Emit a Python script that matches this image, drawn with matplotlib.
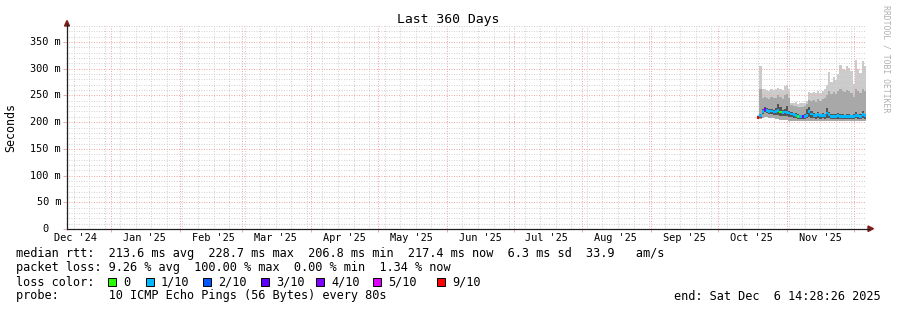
import datetime as dt
import matplotlib
matplotlib.use("Agg")
import matplotlib.pyplot as plt
import matplotlib.dates as mdates
from matplotlib.patches import Rectangle, Polygon
from matplotlib.lines import Line2D
from matplotlib.ticker import MultipleLocator

W, H = 897, 310
MONO = "DejaVu Sans Mono"

# ---- data ----
t_start = dt.datetime(2024, 12, 11, 14, 28, 26)
t_end = dt.datetime(2025, 12, 6, 14, 28, 26)
data_start = dt.datetime(2025, 10, 18, 14, 0)

month_labels = ["Dec '24", "Jan '25", "Feb '25", "Mar '25", "Apr '25", "May '25",
                "Jun '25", "Jul '25", "Aug '25", "Sep '25", "Oct '25", "Nov '25"]
month_ym = [(2024, 12), (2025, 1), (2025, 2), (2025, 3), (2025, 4), (2025, 5),
            (2025, 6), (2025, 7), (2025, 8), (2025, 9), (2025, 10), (2025, 11)]

# daily smoke (ms): highest ping, upper-mid ping, dark band top/bottom, lowest ping
smoke_hi = [214, 305, 262, 262, 260, 258, 263, 261, 262, 264, 262, 260, 268, 270, 262,
            236, 235, 237, 234, 236, 235, 236, 240, 256, 255, 257, 254, 258, 255, 258,
            262, 270, 294, 276, 284, 279, 290, 307, 300, 298, 305, 302, 296, 272, 316,
            300, 292, 314, 305]
smoke_mid = [212, 262, 245, 248, 246, 244, 247, 245, 246, 250, 248, 244, 250, 252, 246,
             232, 230, 231, 228, 229, 228, 230, 234, 242, 240, 242, 238, 243, 240, 244,
             246, 250, 258, 252, 256, 252, 258, 262, 258, 256, 260, 258, 255, 248, 262,
             258, 254, 262, 258]
dark_hi = [211, 216, 225, 228, 226, 224, 225, 223, 226, 234, 228, 222, 224, 230, 221,
           219, 218, 217, 215, 214, 214, 215, 224, 228, 220, 217, 216, 219, 216, 217,
           216, 226, 219, 215, 215, 215, 217, 215, 215, 214, 215, 216, 214, 215, 219,
           216, 215, 220, 216]
dark_lo = [207, 208, 215, 219, 217, 215, 216, 214, 214, 213, 212, 212, 212, 211, 210,
           209, 208, 207, 206, 205, 205, 206, 207, 210, 208, 207, 206, 207, 206, 207,
           206, 208, 207, 206, 206, 206, 206, 206, 206, 205, 206, 206, 205, 206, 207,
           206, 206, 207, 206]
smoke_lo = [206, 206, 208, 210, 209, 208, 208, 207, 206, 205, 204, 204, 204, 204, 203,
            203, 202, 202, 202, 202, 202, 202, 202, 203, 203, 203, 202, 203, 202, 203,
            203, 203, 202, 202, 202, 202, 202, 202, 202, 202, 202, 202, 202, 202, 202,
            202, 202, 202, 202]
median = [209, 212, 220, 224, 222, 220, 221, 219, 220, 222, 219, 218, 219, 218, 217,
          215, 214, 213, 211, 210, 210, 211, 213, 220, 215, 213, 212, 214, 212, 213,
          212, 217, 214, 211, 211, 211, 212, 211, 211, 210, 211, 211, 210, 211, 213,
          212, 211, 214, 212]
loss = [9, 1, 1, 4, 1, 1, 1, 1, 1, 1, 0, 1, 1, 1, 1,
        1, 1, 1, 0, 1, 4, 1, 1, 1, 1, 1, 1, 1, 1, 1,
        1, 1, 1, 1, 1, 1, 1, 1, 1, 1, 1, 1, 1, 1, 1,
        1, 1, 1, 1]

loss_keys = [0, 1, 2, 3, 4, 5, 9]
loss_names = ["0", "1/10", "2/10", "3/10", "4/10", "5/10", "9/10"]
loss_colors = ["#26ff00", "#00b8ff", "#0059ff", "#5e00ff", "#7e00ff", "#dd00ff", "#ff0000"]

legend_rows = [
    "median rtt:  213.6 ms avg  228.7 ms max  206.8 ms min  217.4 ms now  6.3 ms sd  33.9   am/s",
    "packet loss: 9.26 % avg  100.00 % max  0.00 % min  1.34 % now",
]
probe_text = "probe:       10 ICMP Echo Pings (56 Bytes) every 80s"
end_text = "end: Sat Dec  6 14:28:26 2025"


def fx(x):
    return x / W


def fy(y):
    return 1 - y / H


fig = plt.figure(figsize=(W / 100, H / 100), dpi=100)
fig.patch.set_facecolor("white")

x0, x1 = 66, 866
ybot, ytop = 229, 26
ax = fig.add_axes([fx(x0), fy(ybot), (x1 - x0) / W, (ybot - ytop) / H])
ax.set_xlim(mdates.date2num(t_start), mdates.date2num(t_end))
ax.set_ylim(0, 380)

# ---- smoke + median ----
xs = [mdates.date2num(data_start + dt.timedelta(days=i)) for i in range(len(median))]
h = [a - b for a, b in zip(smoke_hi, smoke_lo)]
ax.bar(xs, h, bottom=smoke_lo, width=1.0, align="edge", color="#cbcbcb", linewidth=0, zorder=2)
h = [a - b for a, b in zip(smoke_mid, smoke_lo)]
ax.bar(xs, h, bottom=smoke_lo, width=1.0, align="edge", color="#a8a8a8", linewidth=0, zorder=3)
h = [a - b for a, b in zip(dark_hi, dark_lo)]
ax.bar(xs, h, bottom=dark_lo, width=1.0, align="edge", color="#555555", linewidth=0, zorder=4)
cmap = dict(zip(loss_keys, loss_colors))
ax.bar(xs, [5] * len(median), bottom=[m - 2.5 for m in median], width=1.0, align="edge",
       color=[cmap[l] for l in loss], linewidth=0, zorder=5)

# ---- grid ----
grid_gray = "#d2d2d2"
grid_red = "#eeaaaa"
dots = (0, (1, 1.5))
ax.xaxis.set_major_locator(mdates.MonthLocator())
ax.xaxis.set_minor_locator(mdates.WeekdayLocator(byweekday=mdates.SU))
ax.yaxis.set_major_locator(MultipleLocator(50))
ax.yaxis.set_minor_locator(MultipleLocator(10))
ax.grid(True, which="minor", color=grid_gray, linestyle=dots, linewidth=0.72, zorder=6)
ax.grid(True, which="major", color=grid_red, linestyle=dots, linewidth=0.72, zorder=7)
ax.set_axisbelow(False)
ax.tick_params(which="both", labelbottom=False, labelleft=False, length=0)
ax.tick_params(which="major", length=2, color=grid_red, width=0.72)

for s in ax.spines.values():
    s.set_visible(False)

# y tick labels
for v in range(0, 351, 50):
    y = ybot - v * (ybot - ytop) / 380
    if v == 0:
        fig.text(fx(48), fy(y), "0", ha="right", va="center", family=MONO, fontsize=7.35)
    else:
        fig.text(fx(61), fy(y), f"{v} m", ha="right", va="center", family=MONO, fontsize=7.35)

# x month labels (mid-month)
for lab, (yy, mm) in zip(month_labels, month_ym):
    ax.text(mdates.date2num(dt.datetime(yy, mm, 16)), -(238 - ybot) / (ybot - ytop),
            lab, transform=ax.get_xaxis_transform(), ha="center", va="center",
            family=MONO, fontsize=7.35)

# axes + arrows
axis_c = "#1f1f1f"
arrow_c = "#7f1f1f"
fig.add_artist(Line2D([fx(x0 + 1), fx(x0 + 1)], [fy(ybot), fy(24)], color=axis_c, lw=0.9))
fig.add_artist(Line2D([fx(x0 + 1), fx(869)], [fy(ybot - 0.5), fy(ybot - 0.5)], color=axis_c, lw=0.9))
fig.add_artist(Polygon([(fx(64.5), fy(26)), (fx(69.5), fy(26)), (fx(67), fy(20.5))],
                       closed=True, color=arrow_c))
fig.add_artist(Polygon([(fx(868), fy(226)), (fx(868), fy(231.5)), (fx(873.5), fy(228.7))],
                       closed=True, color=arrow_c))

# titles
fig.text(fx(448), fy(19), "Last 360 Days", ha="center", va="center", family=MONO, fontsize=9.45)
fig.text(fx(11), fy(127), "Seconds", ha="center", va="center", rotation=90,
         family=MONO, fontsize=8.4)
fig.text(fx(886), fy(5), "RRDTOOL / TOBI OETIKER", ha="center", va="top", rotation=270,
         family=MONO, fontsize=5.9, color="#b0b0b0")

# ---- legend ----
LF = 8.6
for row, y in zip(legend_rows, [254, 268]):
    fig.text(fx(16), fy(y), row, ha="left", va="center", family=MONO, fontsize=LF)
fig.text(fx(16), fy(282), "loss color:", ha="left", va="center", family=MONO, fontsize=LF)
box_x = [108, 146, 203, 261, 316, 373, 437]
for bx, name, col in zip(box_x, loss_names, loss_colors):
    fig.add_artist(Rectangle((fx(bx), fy(286)), 8 / W, 8 / H, facecolor=col,
                             edgecolor="black", linewidth=0.7))
    fig.text(fx(bx + 15), fy(282), name, ha="left", va="center", family=MONO, fontsize=LF)
fig.text(fx(16), fy(296), probe_text, ha="left", va="center", family=MONO, fontsize=LF)
fig.text(fx(881), fy(296), end_text, ha="right", va="center", family=MONO, fontsize=LF)

fig.savefig("out.png", dpi=100)
